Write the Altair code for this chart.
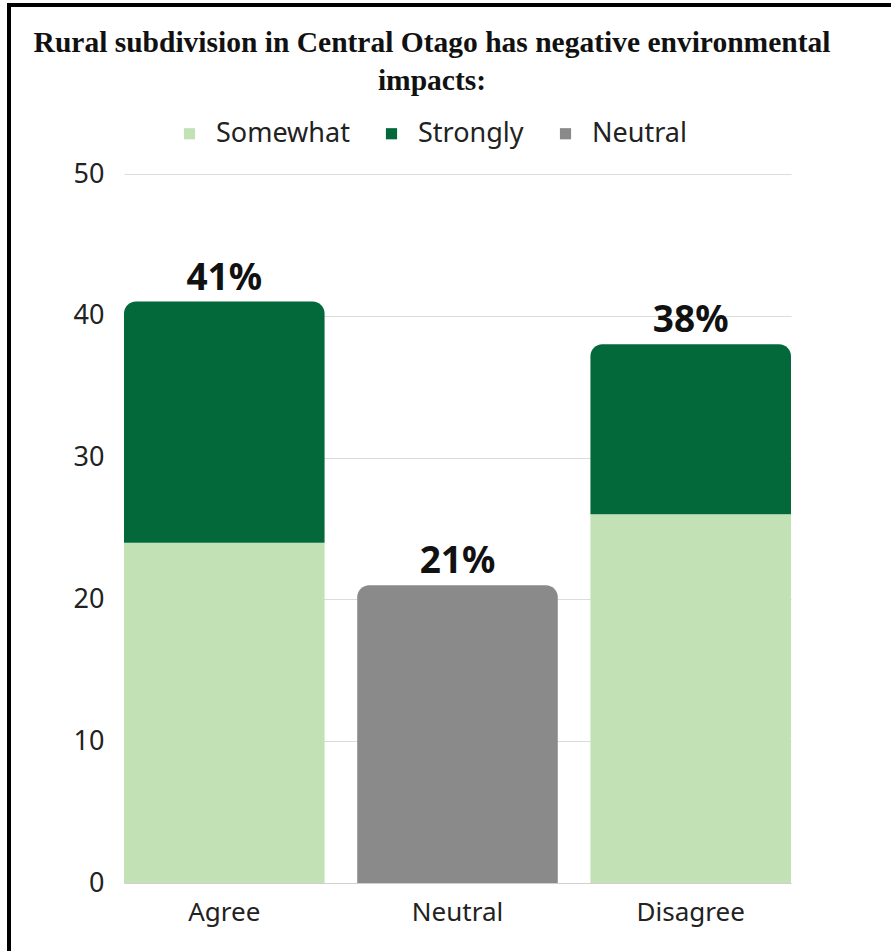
import altair as alt
import pandas as pd

categories = ["Agree", "Neutral", "Disagree"]
somewhat = [24, 0, 26]
strongly = [17, 0, 12]
neutral = [0, 21, 0]
series_names = ["Somewhat", "Strongly", "Neutral"]
series_colors = ["#c2e2b6", "#03683a", "#8a8a8a"]
y_ticks = [0, 10, 20, 30, 40, 50]
title_lines = ["Rural subdivision in Central Otago has negative environmental", "impacts:"]

rows = []
totals = []
for i, cat in enumerate(categories):
    base = 0
    segs = [("Somewhat", somewhat[i]), ("Strongly", strongly[i]), ("Neutral", neutral[i])]
    segs = [s for s in segs if s[1] > 0]
    for j, (name, v) in enumerate(segs):
        rows.append({"category": cat, "series": name, "y0": base, "y1": base + v,
                     "top": j == len(segs) - 1})
        base += v
    totals.append({"category": cat, "total": base, "label": f"{base}%"})
df = pd.DataFrame(rows)
tot = pd.DataFrame(totals)

FONT = "Noto Sans"

x_enc = alt.X("category:N", sort=categories, title=None,
              scale=alt.Scale(paddingInner=0.14, paddingOuter=0),
              axis=alt.Axis(labelAngle=0, labelFontSize=26, labelFont=FONT, labelColor="#222222",
                            labelPadding=16, ticks=False, domain=True, domainColor="#d0d0d0",
                            domainWidth=1, grid=False))
y_scale = alt.Scale(domain=[0, 50], nice=False)
y_axis = alt.Axis(values=y_ticks, title=None, labelFontSize=27, labelFont=FONT, labelColor="#222222",
                  labelPadding=20, ticks=False, domain=False, grid=True, gridColor="#dcdcdc",
                  gridWidth=1)
color_enc = alt.Color("series:N", title=None,
                      scale=alt.Scale(domain=series_names, range=series_colors),
                      legend=alt.Legend(orient="none", legendX=52, legendY=-54, direction="horizontal",
                                        symbolType="square", symbolSize=125, symbolStrokeWidth=0,
                                        labelFontSize=27, labelFont=FONT, labelColor="#222222",
                                        labelOffset=13, columnPadding=28))

base = alt.Chart(df)
bottom = base.transform_filter("!datum.top").mark_bar().encode(
    x=x_enc, y=alt.Y("y0:Q", scale=y_scale, axis=y_axis), y2="y1:Q", color=color_enc)
topbars = base.transform_filter("datum.top").mark_bar(cornerRadiusTopLeft=12, cornerRadiusTopRight=12).encode(
    x=x_enc, y=alt.Y("y0:Q", scale=y_scale, axis=y_axis), y2="y1:Q", color=color_enc)
labels = alt.Chart(tot).mark_text(baseline="alphabetic", dy=-12, fontSize=37, fontWeight="bold",
                                   font=FONT, color="#111111").encode(
    x=alt.X("category:N", sort=categories), y=alt.Y("total:Q", scale=y_scale), text="label:N")

one = pd.DataFrame({"k": [1]})
left_border = alt.Chart(one).mark_rule(color="#000000", strokeWidth=4).encode(
    x=alt.value(-115), y=alt.value(-171), y2=alt.value(800))
top_border = alt.Chart(one).mark_rule(color="#000000", strokeWidth=4).encode(
    x=alt.value(-117), x2=alt.value(800), y=alt.value(-169))

title1 = alt.Chart(one).mark_text(font="Liberation Serif", fontSize=29.5, fontWeight="bold",
                                  color="#111111", align="center", baseline="alphabetic").encode(
    x=alt.value(308), y=alt.value(-122), text=alt.value(title_lines[0]))
title2 = alt.Chart(one).mark_text(font="Liberation Serif", fontSize=29.5, fontWeight="bold",
                                  color="#111111", align="center", baseline="alphabetic").encode(
    x=alt.value(308), y=alt.value(-84), text=alt.value(title_lines[1]))

chart = alt.layer(bottom, topbars, labels, left_border, top_border, title1, title2).properties(
    width=667, height=709,
    autosize=alt.AutoSizeParams(type="none"),
    padding={"left": 124, "top": 174, "right": 100, "bottom": 68},
    background="white",
).configure_view(stroke=None)

chart.save("out.html", embed_options={"renderer": "svg", "actions": False})
